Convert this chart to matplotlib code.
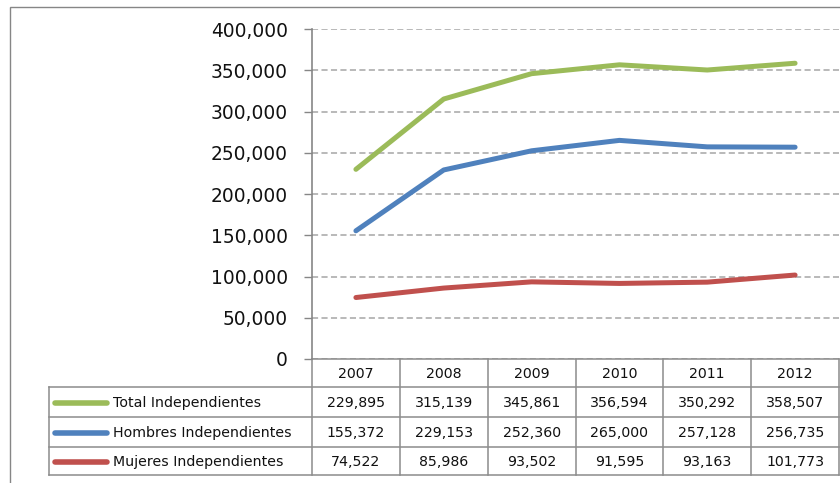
import matplotlib
matplotlib.use("Agg")
import matplotlib.pyplot as plt
from matplotlib.patches import Rectangle
from matplotlib.transforms import blended_transform_factory
from matplotlib.ticker import FuncFormatter, MultipleLocator

years = ["2007", "2008", "2009", "2010", "2011", "2012"]
series_names = ["Total Independientes", "Hombres Independientes", "Mujeres Independientes"]
total = [229895, 315139, 345861, 356594, 350292, 358507]
hombres = [155372, 229153, 252360, 265000, 257128, 256735]
mujeres = [74522, 85986, 93502, 91595, 93163, 101773]
colors = ["#9BBB59", "#4F81BD", "#C0504D"]

W, H = 840, 483
fig = plt.figure(figsize=(W / 100, H / 100), dpi=100)

def fy(py):
    return 1 - py / H

# outer chart border
fig.patches.append(Rectangle((10 / W, -0.1), 1.2, fy(6.5) + 0.1, transform=fig.transFigure,
                             fill=False, edgecolor="#868686", linewidth=1.0))

ax = fig.add_axes([312 / W, fy(359), (839 - 312) / W, (359 - 29) / H])
x = list(range(len(years)))
for vals, c in zip([total, hombres, mujeres], colors):
    ax.plot(x, vals, color=c, linewidth=3.6, solid_capstyle="round", solid_joinstyle="round", zorder=3)

ax.set_xlim(-0.5, len(years) - 0.5)
ax.set_ylim(0, 400000)
ax.yaxis.set_major_locator(MultipleLocator(50000))
ax.yaxis.set_major_formatter(FuncFormatter(lambda v, p: f"{int(v):,}"))
ax.set_xticks([])
for s in ["top", "right", "bottom"]:
    ax.spines[s].set_visible(False)
ax.spines["left"].set_color("#868686")
ax.spines["left"].set_linewidth(1.2)
ax.tick_params(axis="y", length=5.8, width=1, color="#868686", labelsize=13.4, pad=11.5,
               labelcolor="#111111")
ax.yaxis.grid(True, color="#a6a6a6", linewidth=1.1, dashes=(4, 2.2))
ax.set_axisbelow(True)

# data table below, sharing the x data scale
tr = blended_transform_factory(ax.transData, fig.transFigure)
row_edges = [359, 387, 417, 446.5, 475]
left = -3.5
right = len(years) - 0.5
grid_kw = dict(color="#8c8c8c", linewidth=1.1, transform=tr, clip_on=False)

# horizontal lines
ax.plot([-0.5, right], [fy(row_edges[0])] * 2, **grid_kw)
for py in row_edges[1:]:
    ax.plot([left, right], [fy(py)] * 2, **grid_kw)
# vertical lines
ax.plot([left, left], [fy(row_edges[1]), fy(row_edges[-1])], **grid_kw)
for i in range(len(years) + 1):
    xv = i - 0.5
    ax.plot([xv, xv], [fy(row_edges[0]), fy(row_edges[-1])], **grid_kw)

tfont = dict(fontsize=10.2, family="DejaVu Sans", color="#111111", transform=tr, clip_on=False)
hy = fy((row_edges[0] + row_edges[1]) / 2 + 1)
for i, yr in enumerate(years):
    ax.text(i, hy, yr, ha="center", va="center", **tfont)

for r, (name, vals, c) in enumerate(zip(series_names, [total, hombres, mujeres], colors)):
    cy = fy((row_edges[r + 1] + row_edges[r + 2]) / 2 + 1)
    ax.plot([-3.43, -2.83], [cy, cy], color=c, linewidth=4, solid_capstyle="round",
            transform=tr, clip_on=False)
    ax.text(-2.77, cy, name, ha="left", va="center", **tfont)
    for i, v in enumerate(vals):
        ax.text(i, cy, f"{v:,}", ha="center", va="center", **tfont)

fig.savefig("out.png", dpi=100)
